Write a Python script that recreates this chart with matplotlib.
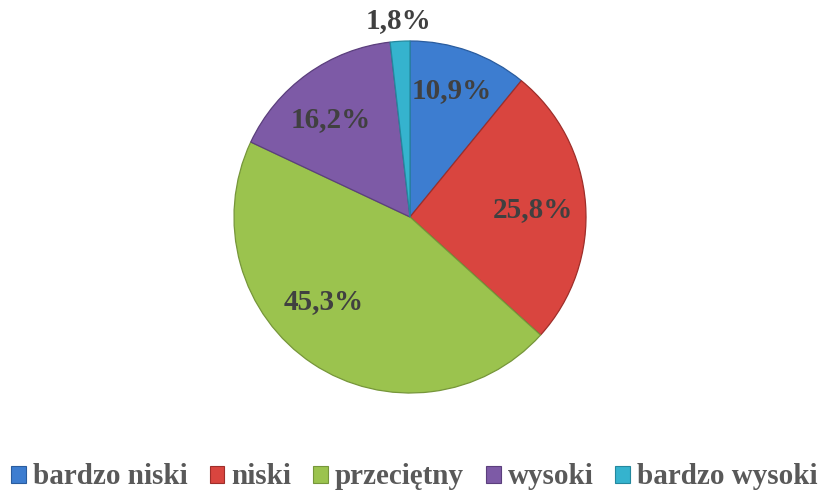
import matplotlib
matplotlib.use("Agg")
import matplotlib.pyplot as plt
from matplotlib.patches import Patch
import numpy as np

categories = ["bardzo niski", "niski", "przeciętny", "wysoki", "bardzo wysoki"]
values = [10.9, 25.8, 45.3, 16.2, 1.8]
labels = ["10,9%", "25,8%", "45,3%", "16,2%", "1,8%"]
colors = ["#3D7DD0", "#D9453F", "#9BC34E", "#7D5AA6", "#35B3CE"]
edges = ["#2A5C9E", "#9E2E2A", "#76963A", "#5B3F7D", "#24889E"]
label_r = [0.747, 0.697, 0.689, 0.708, 1.11]
label_da = [1.0, -1.7, -11.5, 4.0, 0.0]

W, H = 821, 493
fig = plt.figure(figsize=(W / 100, H / 100), dpi=100)
fig.patch.set_facecolor("white")
cx, cy, R = 410, 217, 176
ax = fig.add_axes([(cx - R) / W, (H - cy - R) / H, 2 * R / W, 2 * R / H])

wedges, _ = ax.pie(values, colors=colors, startangle=90, counterclock=False,
                   radius=1.0, wedgeprops=dict(linewidth=0.9))
for w, ec in zip(wedges, edges):
    w.set_edgecolor(ec)
ax.set_xlim(-1, 1)
ax.set_ylim(-1, 1)
ax.set_aspect("equal")
ax.axis("off")

font = dict(family="Liberation Serif", weight="bold")
cum = 0
for v, lab, r, da in zip(values, labels, label_r, label_da):
    mid = 90 - (cum + v / 2) * 3.6 + da
    cum += v
    a = np.deg2rad(mid)
    ax.text(r * np.cos(a), r * np.sin(a) + 0.008, lab, ha="center", va="center",
            fontsize=21, color="#404040", **font)

handles = [Patch(facecolor=c, edgecolor=e, linewidth=0.8) for c, e in zip(colors, edges)]
leg = fig.legend(handles, categories, loc="center",
                 bbox_to_anchor=(0.5 + 4 / W, 1 - 477 / H),
                 ncol=5, frameon=False, handlelength=0.51, handleheight=0.51,
                 handletextpad=0.24, columnspacing=0.75, borderpad=0, borderaxespad=0,
                 prop=dict(family="Liberation Serif", weight="bold", size=21))
for t in leg.get_texts():
    t.set_color("#595959")

fig.savefig("out.png", dpi=100, facecolor="white")
